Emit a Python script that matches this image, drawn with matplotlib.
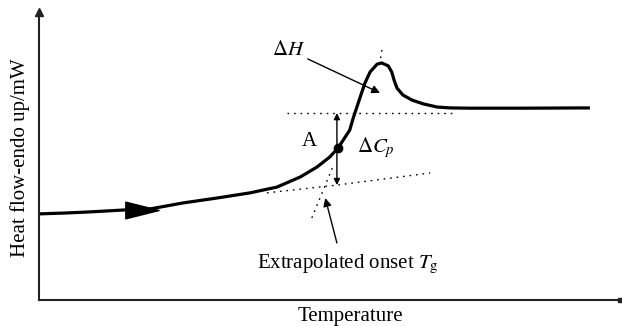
import numpy as np
import matplotlib.pyplot as plt
from matplotlib.path import Path

plt.rcParams['font.family'] = ['Liberation Serif', 'DejaVu Serif']
plt.rcParams['mathtext.fontset'] = 'stix'

# DSC trace (arbitrary temperature / heat-flow units)
temp = [0, 4.5, 8.8, 15, 19.0, 24.7, 30.5, 36.2, 40.8, 44.8, 47.7, 49.9, 51.3,
        53.3, 53.9, 55.1, 55.9, 56.8, 58.0, 58.8, 59.9, 60.5, 60.9, 61.4, 62.4,
        64.0, 65.9, 68.3, 70.5, 74, 82.5, 94.5]
heat = [2.99, 3.02, 3.06, 3.13, 3.16, 3.37, 3.54, 3.72, 3.92, 4.27, 4.62, 4.97,
        5.28, 5.90, 6.32, 7.05, 7.53, 7.92, 8.19, 8.23, 8.13, 7.92, 7.64, 7.36,
        7.12, 6.94, 6.81, 6.70, 6.67, 6.66, 6.66, 6.67]

# construction lines
upper_base_t = [42.5, 71]
upper_base_h = [6.49, 6.49]
lower_base_t = [39.1, 51.1, 67.1]
lower_base_h = [3.72, 3.99, 4.41]
tangent_t = [46.8, 50.3]
tangent_h = [2.85, 4.58]
peak_tan_t = [58.6, 58.9]
peak_tan_h = [8.40, 8.80]

point_a = (51.3, 5.28)
flow_marker = (17.7, 3.12)

fig = plt.figure(figsize=(6.22, 3.26), dpi=100)
ax = fig.add_axes([39 / 622, 26 / 326, 583 / 622, 288 / 326])
ax.set_xlim(0, 100)
ax.set_ylim(0, 10)
for s in ['top', 'right']:
    ax.spines[s].set_visible(False)
for s in ['left', 'bottom']:
    ax.spines[s].set_linewidth(1.5)
    ax.spines[s].set_color('#222222')
ax.set_xticks([])
ax.set_yticks([])

# axis end marks
ax.plot([0], [10], marker='^', color='#222222', markersize=6, clip_on=False)
ax.plot([99.7], [0], marker='s', color='#222222', markersize=3, clip_on=False)

ax.plot(temp, heat, color='black', lw=2.3, solid_capstyle='butt',
        solid_joinstyle='round')

tri = Path([(-1, -0.5), (1, 0), (-1, 0.5), (-1, -0.5)],
           [Path.MOVETO, Path.LINETO, Path.LINETO, Path.CLOSEPOLY])
ax.plot([flow_marker[0]], [flow_marker[1]], marker=tri, markersize=24,
        color='black')

dots = dict(color='black', lw=1.0, linestyle=(0, (1.2, 3.5)))
ax.plot(upper_base_t, upper_base_h, **dots)
ax.plot(lower_base_t, lower_base_h, **dots)
ax.plot(tangent_t, tangent_h, **dots)
ax.plot(peak_tan_t, peak_tan_h, **dots)

# delta Cp double arrow
ax.annotate('', xy=(51.1, upper_base_h[0]), xytext=(51.1, lower_base_h[1]),
            arrowprops=dict(arrowstyle='<|-|>', color='black', lw=1.0,
                            mutation_scale=9, shrinkA=0, shrinkB=0))
ax.plot([point_a[0]], [point_a[1]], 'o', color='black', markersize=6)

ax.annotate('', xy=(58.5, 7.19), xytext=(46.1, 8.37),
            arrowprops=dict(arrowstyle='-|>', color='black', lw=1.0,
                            mutation_scale=12, shrinkA=0, shrinkB=0))
ax.annotate('', xy=(49.1, 3.54), xytext=(51.1, 1.98),
            arrowprops=dict(arrowstyle='-|>', color='black', lw=1.0,
                            mutation_scale=12, shrinkA=0, shrinkB=0))

fs = 15
ax.text(40.0, 8.68, r'$\Delta H$', fontsize=fs, va='center', ha='left')
ax.text(45.0, 5.52, 'A', fontsize=fs, va='center', ha='left')
ax.text(54.5, 5.31, r'$\Delta C_p$', fontsize=fs, va='center', ha='left')
ax.text(37.4, 1.22, r'Extrapolated onset $T_{\mathrm{g}}$', fontsize=fs,
        va='center', ha='left')

fig.text(350 / 622, 1 - 317 / 326, 'Temperature', fontsize=fs,
         ha='center', va='center')
fig.text(20 / 622, 1 - 158 / 326, 'Heat flow-endo up/mW', fontsize=fs,
         ha='center', va='center', rotation=90)

fig.savefig('out.png', dpi=100)
